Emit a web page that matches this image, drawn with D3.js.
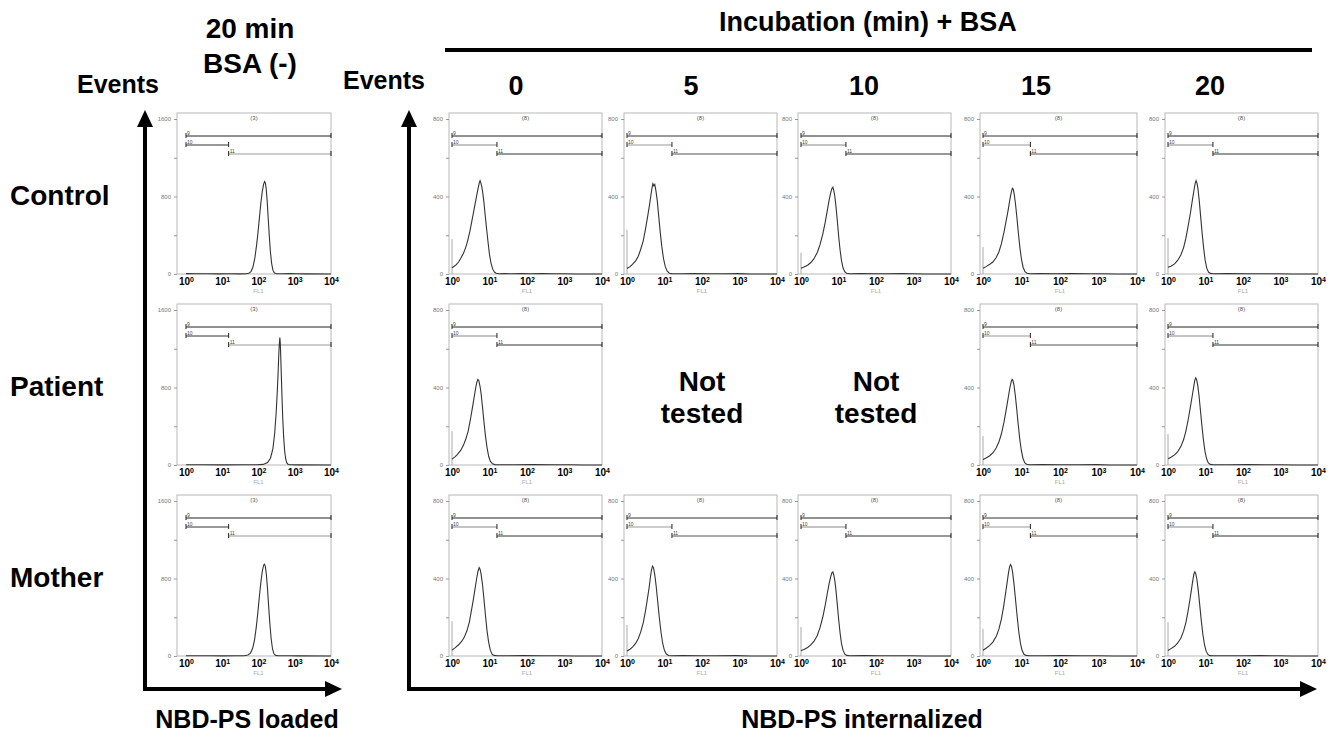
<!DOCTYPE html>
<html>
<head>
<meta charset="utf-8">
<script src="https://cdn.jsdelivr.net/npm/d3@7"></script>
<style>
  body { margin: 0; background: #fff; }
  text { font-family: Arial, "Liberation Sans", sans-serif; }
</style>
</head>
<body>
<svg id="chart" width="1341" height="738"></svg>
<script>
// Flow cytometry histograms: NBD-PS loaded (left) and internalized after BSA back-extraction (right)
// Each histogram is [FL1 intensity, events]

const rowNames = ["Control", "Patient", "Mother"];
const times = ["0", "5", "10", "15", "20"];
const decades = [1, 10, 100, 1000, 10000];

// 20 min, BSA (-)
const controlLoaded = [[1,4],[2,2],[4,3],[8,1],[15,2],[30,1],[45,3],[54,8],[62,25],[70,70],[79,160],[88,290],[97,430],[106,580],[116,730],[127,850],[138,925],[147,955],[155,940],[163,880],[173,760],[185,580],[198,400],[213,230],[230,110],[250,40],[272,12],[310,3],[450,2],[800,4],[1100,2],[2000,1],[10000,0]];
const patientLoaded = [[1,3],[3,2],[10,1],[40,2],[90,3],[135,6],[178,25],[214,70],[250,170],[280,330],[307,540],[330,760],[347,950],[360,1110],[374,1240],[388,1315],[399,1260],[411,1120],[427,920],[445,700],[467,480],[494,290],[525,150],[560,65],[605,22],[660,6],[760,2],[1300,1],[10000,0]];
const motherLoaded = [[1,3],[2,2],[5,2],[10,1],[25,2],[40,3],[51,10],[60,30],[69,80],[78,170],[87,300],[96,450],[106,620],[117,770],[128,880],[139,940],[147,948],[155,920],[165,840],[177,700],[190,520],[205,340],[223,180],[243,75],[265,25],[296,6],[355,2],[700,3],[1300,1],[10000,0]];

// incubation + BSA
const control0 = [[1,32],[1.15,40],[1.3,48],[1.5,62],[1.7,80],[2,105],[2.3,135],[2.6,170],[3,220],[3.4,275],[3.8,325],[4.2,370],[4.6,410],[5,445],[5.3,468],[5.6,482],[5.9,470],[6.2,452],[6.6,420],[7.1,370],[7.7,300],[8.4,230],[9.2,160],[10,100],[11,55],[12.2,25],[13.5,10],[15,4],[18,1],[25,2],[40,1],[70,2],[120,1],[250,2],[500,1],[1000,1],[2000,0],[10000,0]];
const control5 = [[1,28],[1.2,38],[1.4,50],[1.7,68],[2,92],[2.3,125],[2.7,170],[3.1,230],[3.5,290],[3.9,345],[4.3,400],[4.6,440],[4.9,466],[5.2,455],[5.5,462],[5.9,430],[6.4,380],[7,300],[7.7,215],[8.5,140],[9.4,80],[10.5,38],[11.8,14],[13.5,4],[16,1],[30,1],[60,2],[150,1],[400,1],[900,2],[2000,0],[10000,0]];
const control10 = [[1,30],[1.2,36],[1.5,45],[1.8,58],[2.2,78],[2.7,110],[3.2,150],[3.8,205],[4.4,265],[5,325],[5.6,380],[6.2,420],[6.7,442],[7.1,448],[7.5,430],[8,400],[8.6,345],[9.3,275],[10.1,195],[11,125],[12,70],[13.2,32],[14.6,12],[16.5,4],[20,1],[40,2],[90,1],[200,1],[500,2],[1000,1],[2000,0],[10000,0]];
const control15 = [[1,30],[1.2,38],[1.5,50],[1.8,62],[2.2,85],[2.6,115],[3,155],[3.5,215],[4,275],[4.5,330],[5,385],[5.4,420],[5.8,442],[6.1,438],[6.5,410],[7,360],[7.6,290],[8.3,210],[9.1,135],[10,75],[11,35],[12.3,12],[14,4],[17,1],[30,2],[80,1],[200,2],[600,1],[1200,1],[3000,0],[10000,0]];
const control20 = [[1,35],[1.2,40],[1.5,52],[1.8,70],[2.2,98],[2.6,135],[3,185],[3.5,255],[4,320],[4.5,385],[5,440],[5.3,468],[5.6,482],[5.9,470],[6.3,440],[6.8,380],[7.4,300],[8.1,215],[8.9,135],[9.8,70],[10.8,30],[12,10],[13.5,3],[16,1],[40,2],[120,1],[300,1],[800,1],[2000,0],[10000,0]];
const patient0 = [[1,30],[1.2,42],[1.4,55],[1.7,75],[2,100],[2.3,130],[2.7,175],[3.1,235],[3.5,295],[3.9,350],[4.3,400],[4.6,428],[4.9,442],[5.2,435],[5.6,405],[6,365],[6.5,300],[7.1,225],[7.8,150],[8.6,90],[9.5,45],[10.5,20],[12,6],[14,2],[20,1],[50,1],[150,2],[500,1],[1500,1],[3000,0],[10000,0]];
const patient15 = [[1,28],[1.2,36],[1.5,48],[1.8,62],[2.2,88],[2.6,120],[3,160],[3.5,220],[4,285],[4.5,345],[5,400],[5.4,430],[5.7,442],[6,436],[6.4,410],[6.9,360],[7.5,290],[8.2,210],[9,135],[9.9,75],[10.9,35],[12.1,12],[13.6,4],[16,1],[35,2],[100,1],[300,1],[900,2],[2000,0],[10000,0]];
const patient20 = [[1,32],[1.2,40],[1.5,52],[1.8,68],[2.2,95],[2.6,130],[3,175],[3.5,240],[4,305],[4.5,365],[4.9,410],[5.2,438],[5.5,450],[5.8,440],[6.2,412],[6.7,360],[7.3,285],[8,205],[8.8,130],[9.7,70],[10.7,32],[11.9,11],[13.4,3],[16,1],[45,1],[130,2],[400,1],[1000,1],[2500,0],[10000,0]];
const mother0 = [[1,30],[1.2,42],[1.5,58],[1.8,75],[2.1,95],[2.5,130],[2.9,175],[3.3,235],[3.7,290],[4.1,345],[4.5,395],[4.9,435],[5.3,456],[5.6,448],[6,420],[6.5,370],[7.1,295],[7.8,210],[8.6,130],[9.5,70],[10.5,30],[11.7,10],[13,3],[16,1],[30,1],[80,2],[250,1],[700,1],[2000,0],[10000,0]];
const mother5 = [[1,26],[1.2,35],[1.4,46],[1.7,65],[2,90],[2.3,122],[2.7,170],[3.1,230],[3.5,295],[3.9,355],[4.2,405],[4.5,445],[4.8,464],[5.1,455],[5.5,420],[6,360],[6.6,280],[7.3,195],[8.1,120],[9,62],[10,28],[11.2,10],[12.8,3],[15,1],[30,2],[90,1],[250,1],[800,2],[2000,0],[10000,0]];
const mother10 = [[1,28],[1.2,34],[1.5,44],[1.8,56],[2.2,75],[2.7,105],[3.2,145],[3.8,200],[4.4,260],[5,320],[5.6,372],[6.2,410],[6.7,430],[7.1,434],[7.5,418],[8,388],[8.6,335],[9.3,265],[10.1,188],[11,120],[12,65],[13.2,30],[14.6,11],[16.5,3],[20,1],[50,2],[120,1],[300,1],[900,1],[2000,0],[10000,0]];
const mother15 = [[1,30],[1.2,40],[1.5,55],[1.8,72],[2.2,100],[2.6,140],[3,190],[3.4,250],[3.8,315],[4.2,375],[4.6,430],[4.9,460],[5.2,472],[5.5,462],[5.9,430],[6.4,370],[7,290],[7.7,205],[8.5,125],[9.4,65],[10.4,28],[11.6,9],[13,3],[16,1],[40,1],[110,2],[350,1],[1000,1],[2500,0],[10000,0]];
const mother20 = [[1,28],[1.2,38],[1.5,50],[1.8,66],[2.2,92],[2.6,128],[3,172],[3.4,228],[3.8,285],[4.2,340],[4.6,392],[4.9,422],[5.2,434],[5.5,425],[5.9,395],[6.4,340],[7,265],[7.7,185],[8.5,112],[9.4,58],[10.4,25],[11.6,8],[13,2],[16,1],[35,1],[100,1],[300,2],[900,1],[2000,0],[10000,0]];

// first-channel pile-up (events at FL1 = 1)
const spikeControl = [180, 229, 110, 140, 186];
const spikePatient = [175, null, null, 150, 160];
const spikeMother = [180, 160, 150, 140, 175];

// gate markers: 9 = all, 10 = low, 11 = high
const gateSplitLoaded = [15, 15, 15];
const gateSplitInternal = [15.8, 15.8, 15.8, 17, 15.8];

const loaded = [controlLoaded, patientLoaded, motherLoaded];
const internal = [
  [control0, control5, control10, control15, control20],
  [patient0, null, null, patient15, patient20],
  [mother0, mother5, mother10, mother15, mother20]
];
const spikes = [spikeControl, spikePatient, spikeMother];

// layout
const rowTop = [119, 310, 501];
const plotH = 155;
const leftRange = [186, 331];
const colRanges = [[452, 602], [627, 777], [801, 951], [983, 1137], [1168, 1318]];
const colLabelX = [516, 691, 864, 1036, 1210];
const font = "Arial, 'Liberation Sans', sans-serif";

const svg = d3.select("#chart");
const line = (x, y) => d3.line().x(d => x(d[0])).y(d => y(d[1]));

function drawPanel({ hist, spike, ymax, range, boxLeft, yTop, split, tag, gateColors }) {
  const yBot = yTop + plotH;
  const x = d3.scaleLog().domain([1, 10000]).range(range);
  const y = d3.scaleLinear().domain([0, ymax]).range([yBot, yTop]);
  const g = svg.append("g");

  g.append("rect")
    .attr("x", boxLeft)
    .attr("y", yTop - 6)
    .attr("width", range[1] - boxLeft)
    .attr("height", yBot - yTop + 6)
    .attr("fill", "none")
    .attr("stroke", "#b8b8b8")
    .attr("stroke-width", 1);

  // y axis, small grey
  g.append("g")
    .attr("transform", `translate(${boxLeft},0)`)
    .call(d3.axisLeft(y)
      .tickValues(d3.range(0, ymax + 1, ymax / 4))
      .tickSize(3)
      .tickPadding(3)
      .tickFormat(d => d % (ymax / 2) === 0 ? d : ""))
    .call(a => a.select(".domain").remove())
    .call(a => a.selectAll("line").attr("stroke", "#999"))
    .call(a => a.selectAll("text").attr("fill", "#777").style("font-size", "6px").style("font-family", font));

  // x axis, decades with superscripts
  g.append("g")
    .attr("transform", `translate(0,${yBot})`)
    .call(d3.axisBottom(x).tickValues(decades).tickSize(0).tickPadding(4).tickFormat(() => ""))
    .call(a => a.select(".domain").remove())
    .call(a => a.selectAll(".tick text").each(function(d) {
      const t = d3.select(this)
        .attr("fill", "#000")
        .style("font-size", "10px")
        .style("font-weight", "bold")
        .style("font-family", font);
      t.append("tspan").text("10");
      t.append("tspan").attr("dy", "-0.45em").style("font-size", "7px").text(Math.round(Math.log10(d)));
    }));

  g.append("text")
    .attr("x", x(100))
    .attr("y", yBot + 19)
    .attr("text-anchor", "middle")
    .attr("fill", "#aaa")
    .style("font-size", "6px")
    .text("FL1");

  g.append("text")
    .attr("x", (boxLeft + range[1]) / 2)
    .attr("y", yTop + 1)
    .attr("text-anchor", "middle")
    .attr("fill", "#555")
    .style("font-size", "6px")
    .text(tag);

  // gates
  const gates = [
    { name: "9", from: 1, to: 10000, dy: 17 },
    { name: "10", from: 1, to: split, dy: 26 },
    { name: "11", from: split, to: 10000, dy: 35 }
  ];
  gates.forEach((gt, i) => {
    const gy = yTop + gt.dy;
    const c = gateColors[i];
    g.append("line")
      .attr("x1", x(gt.from)).attr("x2", x(gt.to))
      .attr("y1", gy).attr("y2", gy)
      .attr("stroke", c).attr("stroke-width", 1);
    [gt.from, gt.to].forEach(v => {
      g.append("line")
        .attr("x1", x(v)).attr("x2", x(v))
        .attr("y1", gy - 3).attr("y2", gy + 2)
        .attr("stroke", "#222").attr("stroke-width", 1);
    });
    g.append("text")
      .attr("x", x(gt.from) + 1)
      .attr("y", gy - 1.5)
      .attr("fill", "#444")
      .style("font-size", "5px")
      .text(gt.name);
  });

  if (spike) {
    g.append("line")
      .attr("x1", x(1)).attr("x2", x(1))
      .attr("y1", y(0)).attr("y2", y(spike))
      .attr("stroke", "#aaa").attr("stroke-width", 1);
  }

  g.append("path")
    .datum(hist)
    .attr("fill", "none")
    .attr("stroke", "#333")
    .attr("stroke-width", 1.1)
    .attr("d", line(x, y));
}

rowNames.forEach((name, r) => {
  drawPanel({
    hist: loaded[r], spike: null, ymax: 1600, range: leftRange, boxLeft: 177,
    yTop: rowTop[r], split: gateSplitLoaded[r], tag: "(3)",
    gateColors: ["#222", "#333", "#999"]
  });
  internal[r].forEach((hist, c) => {
    const range = colRanges[c];
    if (!hist) {
      const cx = (range[0] + range[1]) / 2;
      const t = svg.append("text")
        .attr("x", cx)
        .attr("text-anchor", "middle")
        .style("font-size", "28px")
        .style("font-weight", "bold");
      t.append("tspan").attr("x", cx).attr("y", rowTop[r] + 81).text("Not");
      t.append("tspan").attr("x", cx).attr("y", rowTop[r] + 113).text("tested");
      return;
    }
    drawPanel({
      hist, spike: spikes[r][c], ymax: 800, range, boxLeft: range[0] - 3,
      yTop: rowTop[r], split: gateSplitInternal[c], tag: "(8)",
      gateColors: c % 2 ? ["#333", "#999", "#555"] : ["#222", "#888", "#333"]
    });
  });

  svg.append("text")
    .attr("x", 10)
    .attr("y", rowTop[r] + 86)
    .style("font-size", "28px")
    .style("font-weight", "bold")
    .text(name);
});

// headings
const heading = (txt, x, y, size, anchor = "middle") =>
  svg.append("text")
    .attr("x", x).attr("y", y)
    .attr("text-anchor", anchor)
    .style("font-size", size + "px")
    .style("font-weight", "bold")
    .text(txt);

heading("20 min", 250, 38, 28);
heading("BSA (-)", 250, 73, 28);
heading("Events", 77, 93, 25, "start");
heading("Events", 343, 89, 25, "start");
heading("Incubation (min) + BSA", 868, 31, 27);
times.forEach((t, i) => heading(t, colLabelX[i], 95, 27));
heading("NBD-PS loaded", 247, 728, 25);
heading("NBD-PS internalized", 862, 728, 25);

svg.append("line")
  .attr("x1", 445).attr("x2", 1312)
  .attr("y1", 50).attr("y2", 50)
  .attr("stroke", "#000").attr("stroke-width", 4);

// big axis arrows
function arrow(x0, y0, x1, y1) {
  const len = Math.hypot(x1 - x0, y1 - y0);
  const ux = (x1 - x0) / len, uy = (y1 - y0) / len;
  const head = 17, half = 8;
  const bx = x1 - ux * head, by = y1 - uy * head;
  svg.append("line")
    .attr("x1", x0).attr("y1", y0).attr("x2", bx + ux).attr("y2", by + uy)
    .attr("stroke", "#000").attr("stroke-width", 4);
  svg.append("polygon")
    .attr("points", [[x1, y1], [bx - uy * half, by + ux * half], [bx + uy * half, by - ux * half]].join(" "))
    .attr("fill", "#000");
}
arrow(145, 691, 145, 110);
arrow(143, 689, 342, 689);
arrow(409, 691, 409, 110);
arrow(407, 689, 1317, 689);
</script>
</body>
</html>
